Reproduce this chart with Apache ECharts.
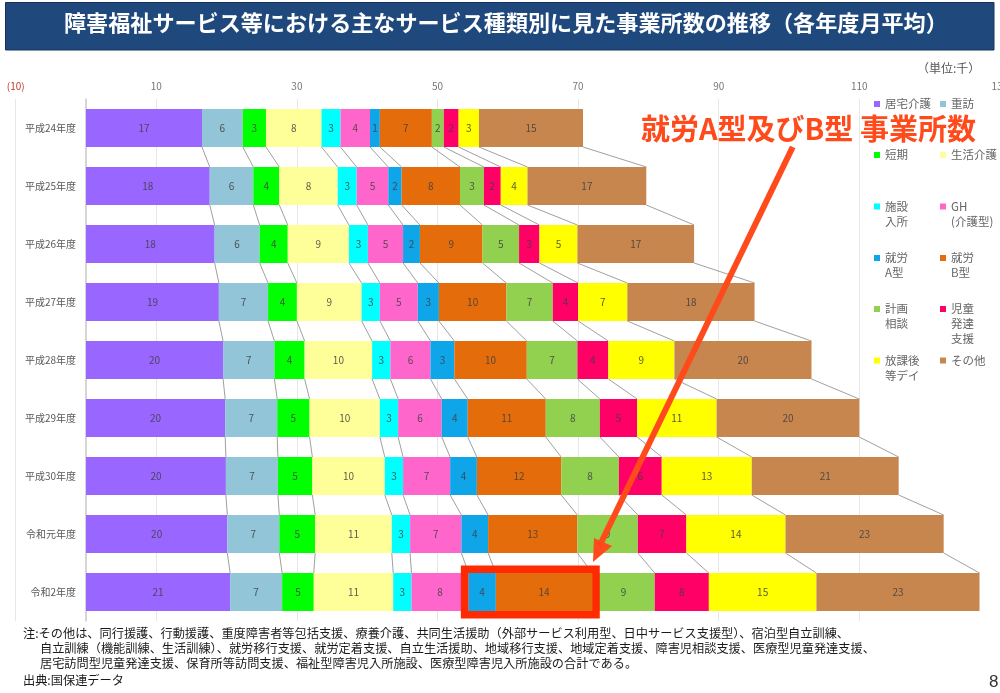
<!DOCTYPE html>
<html><head><meta charset="utf-8">
<style>html,body{margin:0;padding:0;background:#fff}#c{width:1000px;height:693px}</style>
<script src="https://cdn.jsdelivr.net/npm/echarts@6/dist/echarts.min.js"></script>
</head><body><div id="c"></div>
<script>
const FONT = '"Noto Sans CJK JP","Noto Sans",sans-serif';
const years = ['平成24年度','平成25年度','平成26年度','平成27年度','平成28年度','平成29年度','平成30年度','令和元年度','令和2年度'];
const names = ['居宅介護','重訪','短期','生活介護','施設入所','GH(介護型)','就労A型','就労B型','計画相談','児童発達支援','放課後等デイ','その他'];
const legendLines = [['居宅介護'],['重訪'],['短期'],['生活介護'],['施設','入所'],['GH','(介護型)'],['就労','A型'],['就労','B型'],['計画','相談'],['児童','発達','支援'],['放課後','等デイ'],['その他']];
const kyotaku = [16.5,17.6,18.3,18.9,19.5,19.8,19.9,20.1,20.5];
const juho = [5.8,6.2,6.4,7.0,7.3,7.4,7.4,7.4,7.4];
const tanki = [3.3,3.7,4.0,4.1,4.3,4.6,4.9,5.1,4.5];
const seikatsu = [7.9,8.3,8.7,9.2,9.6,10.0,10.3,10.9,11.3];
const shisetsu = [2.7,2.7,2.7,2.6,2.6,2.6,2.6,2.6,2.6];
const gh = [4.2,4.5,5.0,5.4,5.7,6.2,6.7,7.3,8.1];
const shuroA = [1.4,1.9,2.4,3.0,3.4,3.7,3.8,3.8,3.9];
const shuroB = [7.4,8.3,8.9,9.6,10.3,11.1,12.0,12.7,13.7];
const keikaku = [1.7,3.4,5.2,6.6,7.2,7.7,8.2,8.6,8.9];
const jido = [2.1,2.4,2.9,3.6,4.4,5.3,6.1,6.9,7.7];
const hokago = [2.9,3.8,5.4,7.0,9.4,11.3,12.8,14.1,15.3];
const sonota = [14.8,16.9,16.6,18.1,19.5,20.3,20.9,22.5,23.2];
const seriesValues = [kyotaku,juho,tanki,seikatsu,shisetsu,gh,shuroA,shuroB,keikaku,jido,hokago,sonota];
const colors = ['#9966FF','#92C5D8','#00FF00','#FFFF99','#00FFFF','#FF66CC','#0FA5E9','#E46C0A','#92D050','#FF0066','#FFFF00','#C8864F'];
const xTicks = [-10,10,30,50,70,90,110,130];
const titleText = '障害福祉サービス等における主なサービス種類別に見た事業所数の推移（各年度月平均）';
const unitText = '（単位:千）';
const calloutText = '就労A型及びB型 事業所数';
const noteLines = ['注:その他は、同行援護、行動援護、重度障害者等包括支援、療養介護、共同生活援助（外部サービス利用型、日中サービス支援型）、宿泊型自立訓練、',
 '自立訓練（機能訓練、生活訓練）、就労移行支援、就労定着支援、自立生活援助、地域移行支援、地域定着支援、障害児相談支援、医療型児童発達支援、',
 '居宅訪問型児童発達支援、保育所等訪問支援、福祉型障害児入所施設、医療型障害児入所施設の合計である。',
 '出典:国保連データ'];
const pageNo = '8';

const BAR = 38;
const cum = seriesValues.map(()=>[]);
years.forEach((_,r)=>{let t=0;seriesValues.forEach((a,s)=>{t+=a[r];cum[s][r]=+t.toFixed(2);});});
const connectors=[];
cum.forEach(c=>{for(let r=0;r<years.length-1;r++)connectors.push([c[r],r,c[r+1],r+1]);});

const bars = names.map((n,s)=>({
  type:'bar',name:n,stack:'t',data:seriesValues[s],barWidth:BAR,z:3,
  itemStyle:{color:colors[s]},
  label:{show:true,position:'inside',fontSize:10,fontFamily:FONT,color:'#404040',opacity:.85,formatter:p=>Math.round(p.value)}
}));
const legends = names.map((n,i)=>({
  data:[n],orient:'vertical',left:i%2?940:874,top:[104,155,206.5,258,309,360.5][i>>1]-37.5,padding:0,
  itemWidth:6,itemHeight:6,icon:'rect',selectedMode:false,
  textStyle:{fontSize:11.5,lineHeight:15,color:'#666',fontFamily:FONT},
  formatter:()=>{const l=legendLines[i];return ['\u3000','\u3000'].concat(l).concat(['\u3000','\u3000','\u3000'].slice(0,3-l.length)).join('\n');}
}));
const graphic=[
 {type:'rect',z:0,shape:{x:5.5,y:2.5,width:988.5,height:47.5},style:{fill:'#1F497D',stroke:'#17325a',lineWidth:1}},
 {type:'text',z:5,x:917,y:62,style:{text:unitText,font:'12px '+FONT,fill:'#555'}},
 {type:'polyline',z:20,shape:{points:[[792.7,147],[600,545]]},style:{stroke:'#FF4A1C',lineWidth:6,fill:null}},
 {type:'polygon',z:20,shape:{points:[[593,562],[594,538],[612,546]]},style:{fill:'#FF4A1C'}},
 {type:'text',z:21,x:641,y:114,style:{text:calloutText,font:'bold 29px '+FONT,fill:'#FF4A1C'}},
 ...noteLines.map((t,i)=>({type:'text',z:5,x:(i===1||i===2)?40:23,y:[627,642.5,657,674][i],style:{text:t,font:'12.2px '+FONT,fill:'#1a1a1a'}})),
 {type:'text',z:5,x:989,y:674,style:{text:pageNo,font:'17px "Liberation Sans",sans-serif',fill:'#333'}}
];
const chart=echarts.init(document.getElementById('c'),null,{renderer:'canvas'});
chart.setOption({
 animation:false,backgroundColor:'#fff',color:colors,
 title:{text:titleText,left:64,top:12,padding:0,textStyle:{color:'#fff',fontSize:22.1,fontWeight:'bold',fontFamily:FONT}},
 legend:legends,graphic,
 grid:{left:15.7,width:984.2,top:99,height:522,containLabel:false,outerBoundsMode:'none'},
 xAxis:{type:'value',position:'top',min:-10,max:130,
  axisLine:{show:false},axisTick:{show:false,customValues:xTicks},
  axisLabel:{customValues:xTicks,margin:8,fontSize:10,fontFamily:FONT,formatter:v=>v<0?'('+(-v)+')':String(v),color:v=>v<0?'#C0392B':'#777',hideOverlap:false},
  splitLine:{show:true,lineStyle:{color:'#E6E6E6',width:1}}},
 yAxis:{type:'category',inverse:true,data:years,
  axisLine:{show:true,onZero:true,lineStyle:{color:'#C8C8C8',width:1.5}},axisTick:{show:false},
  axisLabel:{margin:-60.3,fontSize:10,fontFamily:FONT,color:'#595959'},splitLine:{show:false}},
 series:[...bars,
  {type:'custom',name:'connector',z:2,silent:true,data:connectors,encode:{x:[0,2],y:[1,3]},clip:false,
   renderItem:(p,api)=>{const a=api.coord([api.value(0),api.value(1)]),b=api.coord([api.value(2),api.value(3)]);
    return {type:'line',shape:{x1:a[0],y1:a[1]+BAR/2,x2:b[0],y2:b[1]-BAR/2},style:{stroke:'#A0A0A0',lineWidth:1}};}},
  {type:'custom',name:'highlight',z:6,silent:true,clip:false,data:[[cum[5][8],cum[7][8],8]],encode:{x:[0,1],y:2},
   renderItem:(p,api)=>{const a=api.coord([api.value(0),api.value(2)]),b=api.coord([api.value(1),api.value(2)]);const pad=3.8;
    return {type:'rect',shape:{x:a[0]-pad,y:a[1]-BAR/2-pad,width:b[0]-a[0]+2*pad,height:BAR+2*pad},style:{fill:'none',stroke:'#FF2A00',lineWidth:7.6}};}}
 ]
});
</script></body></html>
